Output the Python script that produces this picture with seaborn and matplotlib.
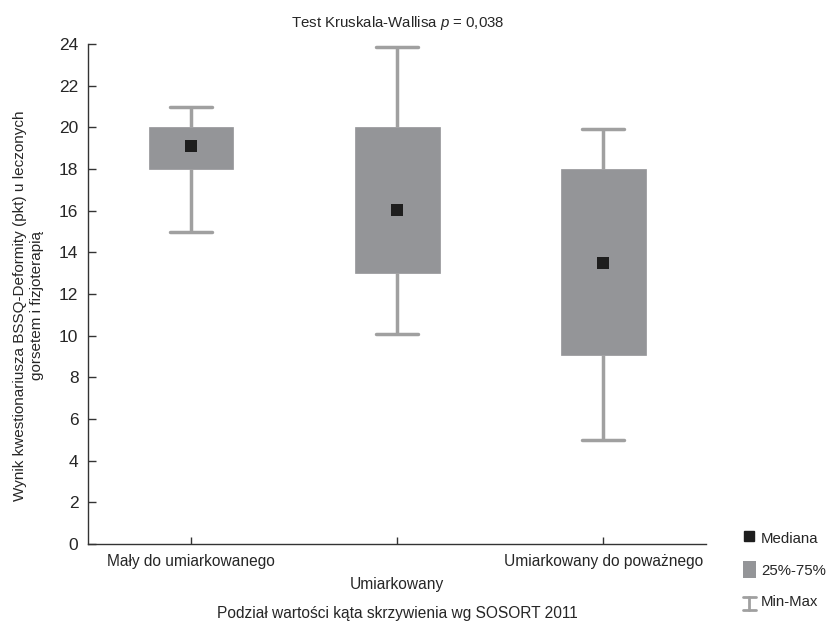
import matplotlib
matplotlib.use("Agg")
import pandas as pd
import matplotlib.pyplot as plt
import seaborn as sns
from matplotlib.lines import Line2D
from matplotlib.patches import Patch
from matplotlib.legend_handler import HandlerBase

# values (min / quartiles / median / max per group)
categories = ["Mały do umiarkowanego", "Umiarkowany", "Umiarkowany do poważnego"]
mins = [15.0, 10.1, 5.0]
q1s = [18.0, 13.0, 9.05]
medians = [19.1, 16.05, 13.5]
q3s = [20.0, 20.0, 18.0]
maxs = [21.0, 23.85, 19.9]
yticks = list(range(0, 25, 2))

BOX = "#949598"
WHISK = "#a0a0a0"
MED = "#1e1e1e"
AXC = "#333333"

# five values per group -> seaborn's quartiles land exactly on q1 / median / q3
rows = []
for i, cat in enumerate(categories):
    for v in (mins[i], q1s[i], medians[i], q3s[i], maxs[i]):
        rows.append({"grupa": cat, "wynik": v})
df = pd.DataFrame(rows)
med_df = pd.DataFrame({"grupa": categories, "wynik": medians})

sns.set_style("ticks")
plt.rcParams["font.family"] = ["Liberation Sans", "DejaVu Sans"]
plt.rcParams["mathtext.fontset"] = "custom"
plt.rcParams["mathtext.rm"] = "Liberation Sans"
plt.rcParams["mathtext.it"] = "Liberation Sans:italic"


class MinMaxHandler(HandlerBase):
    def create_artists(self, legend, orig_handle, xdescent, ydescent,
                       width, height, fontsize, trans):
        x0, x1 = -xdescent, -xdescent + width
        xc = (x0 + x1) / 2
        y0, y1 = -ydescent, -ydescent + height * 0.75
        kw = dict(color=WHISK, lw=2, transform=trans)
        return [Line2D([xc, xc], [y0, y1], **kw),
                Line2D([x0, x1], [y0, y0], **kw),
                Line2D([x0, x1], [y1, y1], **kw)]


fig = plt.figure(figsize=(8.32, 6.25), dpi=100)
ax = fig.add_axes([0.106, 0.1296, 0.743, 0.8])

sns.boxplot(data=df, x="grupa", y="wynik", order=categories, ax=ax,
            whis=(0, 100), width=0.41, color=BOX, fill=True,
            linecolor=WHISK, linewidth=2.5, fliersize=0,
            boxprops=dict(facecolor=BOX, edgecolor=BOX, linewidth=0.5),
            medianprops=dict(visible=False),
            whiskerprops=dict(color=WHISK, linewidth=2.5),
            capprops=dict(color=WHISK, linewidth=2.5))

sns.stripplot(data=med_df, x="grupa", y="wynik", order=categories, ax=ax,
              jitter=False, marker="s", size=8, color=MED, linewidth=0,
              zorder=5)

ax.set_xlim(-0.5, 2.5)
ax.set_ylim(0, 24)
ax.set_yticks(yticks)
ax.set_yticklabels([str(t) for t in yticks], fontsize=12.5)
ax.set_xticks(range(len(categories)))
ax.set_xticklabels(categories, fontsize=11.2)
ax.get_xticklabels()[1].set_y(-0.046)

ax.tick_params(axis="y", direction="in", length=6, width=1, color=AXC, pad=7)
ax.tick_params(axis="x", direction="in", length=5, width=1, color=AXC, pad=7)
for side in ("top", "right"):
    ax.spines[side].set_visible(False)
for side in ("left", "bottom"):
    ax.spines[side].set_color(AXC)
    ax.spines[side].set_linewidth(1)

ax.set_ylabel("Wynik kwestionariusza BSSQ-Deformity (pkt) u leczonych\ngorsetem i fizjoterapią",
              fontsize=11, multialignment="center")
ax.yaxis.set_label_coords(-0.072, 0.476)
ax.set_xlabel("Podział wartości kąta skrzywienia wg SOSORT 2011", fontsize=11.2)
ax.xaxis.set_label_coords(0.5, -0.124)
ax.set_title(r"Test Kruskala-Wallisa $\mathit{p}$ = $\mathit{0{,}038}$", fontsize=10.8, pad=12)

handles = [
    Line2D([], [], marker="s", linestyle="none", color=MED, markersize=7),
    Patch(facecolor=BOX, edgecolor="none"),
    Line2D([], []),
]
fig.legend(handles, ["Mediana", "25%-75%", "Min-Max"],
           handler_map={handles[2]: MinMaxHandler()},
           loc="upper left", bbox_to_anchor=(0.893, 0.153),
           frameon=False, fontsize=10.8, handlelength=0.85, handleheight=1.4,
           handletextpad=0.35, labelspacing=0.95, borderpad=0, borderaxespad=0)

fig.savefig("out.png", dpi=100)
